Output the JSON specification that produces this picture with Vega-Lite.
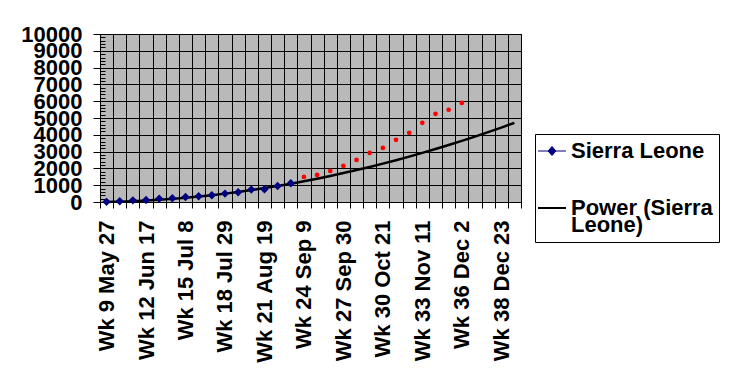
{
  "$schema": "https://vega.github.io/schema/vega-lite/v6.json",
  "autosize": "none",
  "padding": {"left": 100, "top": 34, "right": 213, "bottom": 187},
  "width": 421,
  "height": 168,
  "config": {
    "font": "Liberation Sans",
    "view": {"fill": "#b9b9b9", "stroke": "black", "strokeWidth": 1},
    "axis": {
      "domainColor": "black",
      "tickColor": "black",
      "gridColor": "black",
      "gridOpacity": 1,
      "labelColor": "black",
      "labelFont": "Liberation Sans",
      "labelFontWeight": "bold",
      "labelFontSize": 22,
      "title": null
    }
  },
  "data": {
    "values": [
      {"week": "Wk 9 May 27", "series": "Power (Sierra Leone)", "value": 6},
      {"week": "Wk 10 Jun 3", "series": "Power (Sierra Leone)", "value": 22},
      {"week": "Wk 11 Jun 10", "series": "Power (Sierra Leone)", "value": 49},
      {"week": "Wk 12 Jun 17", "series": "Power (Sierra Leone)", "value": 85},
      {"week": "Wk 13 Jun 24", "series": "Power (Sierra Leone)", "value": 131},
      {"week": "Wk 14 Jul 1", "series": "Power (Sierra Leone)", "value": 186},
      {"week": "Wk 15 Jul 8", "series": "Power (Sierra Leone)", "value": 251},
      {"week": "Wk 16 Jul 15", "series": "Power (Sierra Leone)", "value": 324},
      {"week": "Wk 17 Jul 22", "series": "Power (Sierra Leone)", "value": 407},
      {"week": "Wk 18  Jul 29", "series": "Power (Sierra Leone)", "value": 499},
      {"week": "Wk 19 Aug 5", "series": "Power (Sierra Leone)", "value": 600},
      {"week": "Wk 20 Aug 12", "series": "Power (Sierra Leone)", "value": 709},
      {"week": "Wk 21 Aug 19", "series": "Power (Sierra Leone)", "value": 828},
      {"week": "Wk 22 Aug 26", "series": "Power (Sierra Leone)", "value": 955},
      {"week": "Wk 23 Sep 2", "series": "Power (Sierra Leone)", "value": 1091},
      {"week": "Wk 24 Sep 9", "series": "Power (Sierra Leone)", "value": 1235},
      {"week": "Wk 25 Sep 16", "series": "Power (Sierra Leone)", "value": 1389},
      {"week": "Wk 26 Sep 23", "series": "Power (Sierra Leone)", "value": 1551},
      {"week": "Wk 27 Sep 30", "series": "Power (Sierra Leone)", "value": 1721},
      {"week": "Wk 28 Oct 7", "series": "Power (Sierra Leone)", "value": 1900},
      {"week": "Wk 29 Oct 14", "series": "Power (Sierra Leone)", "value": 2088},
      {"week": "Wk 30 Oct 21", "series": "Power (Sierra Leone)", "value": 2284},
      {"week": "Wk 31 Oct 28", "series": "Power (Sierra Leone)", "value": 2489},
      {"week": "Wk 32 Nov 4", "series": "Power (Sierra Leone)", "value": 2702},
      {"week": "Wk 33 Nov 11", "series": "Power (Sierra Leone)", "value": 2924},
      {"week": "Wk 34 Nov 18", "series": "Power (Sierra Leone)", "value": 3153},
      {"week": "Wk 35 Nov 25", "series": "Power (Sierra Leone)", "value": 3392},
      {"week": "Wk 36 Dec 2", "series": "Power (Sierra Leone)", "value": 3638},
      {"week": "Wk 37 Dec 9", "series": "Power (Sierra Leone)", "value": 3893},
      {"week": "Wk 38 Dec 16", "series": "Power (Sierra Leone)", "value": 4157},
      {"week": "Wk 38 Dec 23", "series": "Power (Sierra Leone)", "value": 4428},
      {"week": "Wk 40 Dec 30", "series": "Power (Sierra Leone)", "value": 4711},
      {"week": "Wk 9 May 27", "series": "Sierra Leone", "value": 10},
      {"week": "Wk 10 Jun 3", "series": "Sierra Leone", "value": 42},
      {"week": "Wk 11 Jun 10", "series": "Sierra Leone", "value": 100},
      {"week": "Wk 12 Jun 17", "series": "Sierra Leone", "value": 120},
      {"week": "Wk 13 Jun 24", "series": "Sierra Leone", "value": 200},
      {"week": "Wk 14 Jul 1", "series": "Sierra Leone", "value": 220},
      {"week": "Wk 15 Jul 8", "series": "Sierra Leone", "value": 300},
      {"week": "Wk 16 Jul 15", "series": "Sierra Leone", "value": 340},
      {"week": "Wk 17 Jul 22", "series": "Sierra Leone", "value": 400},
      {"week": "Wk 18  Jul 29", "series": "Sierra Leone", "value": 500},
      {"week": "Wk 19 Aug 5", "series": "Sierra Leone", "value": 580},
      {"week": "Wk 20 Aug 12", "series": "Sierra Leone", "value": 740},
      {"week": "Wk 21 Aug 19", "series": "Sierra Leone", "value": 760},
      {"week": "Wk 22 Aug 26", "series": "Sierra Leone", "value": 955},
      {"week": "Wk 23 Sep 2", "series": "Sierra Leone", "value": 1115},
      {"week": "Wk 24 Sep 9", "series": "Projection", "value": 1490},
      {"week": "Wk 25 Sep 16", "series": "Projection", "value": 1610},
      {"week": "Wk 26 Sep 23", "series": "Projection", "value": 1850},
      {"week": "Wk 27 Sep 30", "series": "Projection", "value": 2150},
      {"week": "Wk 28 Oct 7", "series": "Projection", "value": 2505},
      {"week": "Wk 29 Oct 14", "series": "Projection", "value": 2920},
      {"week": "Wk 30 Oct 21", "series": "Projection", "value": 3220},
      {"week": "Wk 31 Oct 28", "series": "Projection", "value": 3700},
      {"week": "Wk 32 Nov 4", "series": "Projection", "value": 4115},
      {"week": "Wk 33 Nov 11", "series": "Projection", "value": 4710},
      {"week": "Wk 34 Nov 18", "series": "Projection", "value": 5250},
      {"week": "Wk 35 Nov 25", "series": "Projection", "value": 5490},
      {"week": "Wk 36 Dec 2", "series": "Projection", "value": 5900}
    ]
  },
  "encoding": {
    "x": {
      "field": "week",
      "type": "nominal",
      "sort": null,
      "scale": {"paddingInner": 0, "paddingOuter": 0},
      "axis": {
        "tickBand": "extent",
        "grid": true,
        "gridWidth": 1,
        "tickSize": 6,
        "labelAngle": 270,
        "labelPadding": 12,
        "labelOverlap": false,
        "labelLimit": 300,
        "labelExpr": "indexof(['Wk 9 May 27','Wk 12 Jun 17','Wk 15 Jul 8','Wk 18  Jul 29','Wk 21 Aug 19','Wk 24 Sep 9','Wk 27 Sep 30','Wk 30 Oct 21','Wk 33 Nov 11','Wk 36 Dec 2','Wk 38 Dec 23'], datum.label) >= 0 ? datum.label : ''"
      }
    },
    "y": {
      "field": "value",
      "type": "quantitative",
      "scale": {"domain": [0, 10000], "nice": false},
      "axis": {
        "values": [0,200,400,600,800,1000,1200,1400,1600,1800,2000,2200,2400,2600,2800,3000,3200,3400,3600,3800,4000,4200,4400,4600,4800,5000,5200,5400,5600,5800,6000,6200,6400,6600,6800,7000,7200,7400,7600,7800,8000,8200,8400,8600,8800,9000,9200,9400,9600,9800,10000],
        "format": "d",
        "grid": true,
        "gridWidth": 1,
        "gridOpacity": {"condition": {"test": "datum.value % 1000 === 0", "value": 1}, "value": 0},
        "tickSize": {"condition": {"test": "datum.value % 1000 === 0", "value": 7}, "value": -5},
        "labelPadding": 11,
        "labelOverlap": false,
        "labelExpr": "datum.value % 1000 === 0 ? datum.label : ''"
      }
    }
  },
  "layer": [
    {
      "transform": [{"filter": "datum.series === 'Power (Sierra Leone)'"}],
      "mark": {"type": "line", "strokeWidth": 2.5, "interpolate": "monotone"},
      "encoding": {
        "color": {
          "field": "series",
          "type": "nominal",
          "scale": {"domain": ["Sierra Leone", "Power (Sierra Leone)"], "range": ["#000080", "black"]},
          "legend": {
            "orient": "none",
            "legendX": 435,
            "legendY": 100,
            "title": null,
            "strokeColor": "black",
            "fillColor": "white",
            "padding": 6,
            "labelFont": "Liberation Sans",
            "labelFontSize": 22,
            "labelFontWeight": "bold",
            "labelColor": "black",
            "labelLimit": 300,
            "labelOffset": 8,
            "symbolSize": 784,
            "rowPadding": 35,
            "labelExpr": "datum.label == 'Power (Sierra Leone)' ? ['Power (Sierra', 'Leone)'] : datum.label",
            "encode": {
              "symbols": {
                "update": {
                  "shape": {"signal": "datum.value === 'Sierra Leone' ? 'M-1,0H1M-0.28,0L0,-0.32L0.28,0L0,0.32Z' : 'M-1,0H1'"},
                  "fill": {"value": "#000080"},
                  "stroke": {"signal": "datum.value === 'Sierra Leone' ? '#000080' : 'black'"},
                  "strokeWidth": {"signal": "datum.value === 'Sierra Leone' ? 1 : 2"}
                }
              },
              "labels": {
                "update": {
                  "lineHeight": {"value": 17}
                }
              }
            }
          }
        }
      }
    },
    {
      "transform": [{"filter": "datum.series === 'Sierra Leone'"}],
      "mark": {"type": "point", "shape": "diamond", "filled": true, "size": 70, "opacity": 1},
      "encoding": {
        "color": {"field": "series", "type": "nominal"}
      }
    },
    {
      "transform": [{"filter": "datum.series === 'Projection'"}],
      "mark": {"type": "point", "shape": "circle", "filled": true, "size": 22, "color": "#ff0000", "opacity": 1}
    }
  ]
}
